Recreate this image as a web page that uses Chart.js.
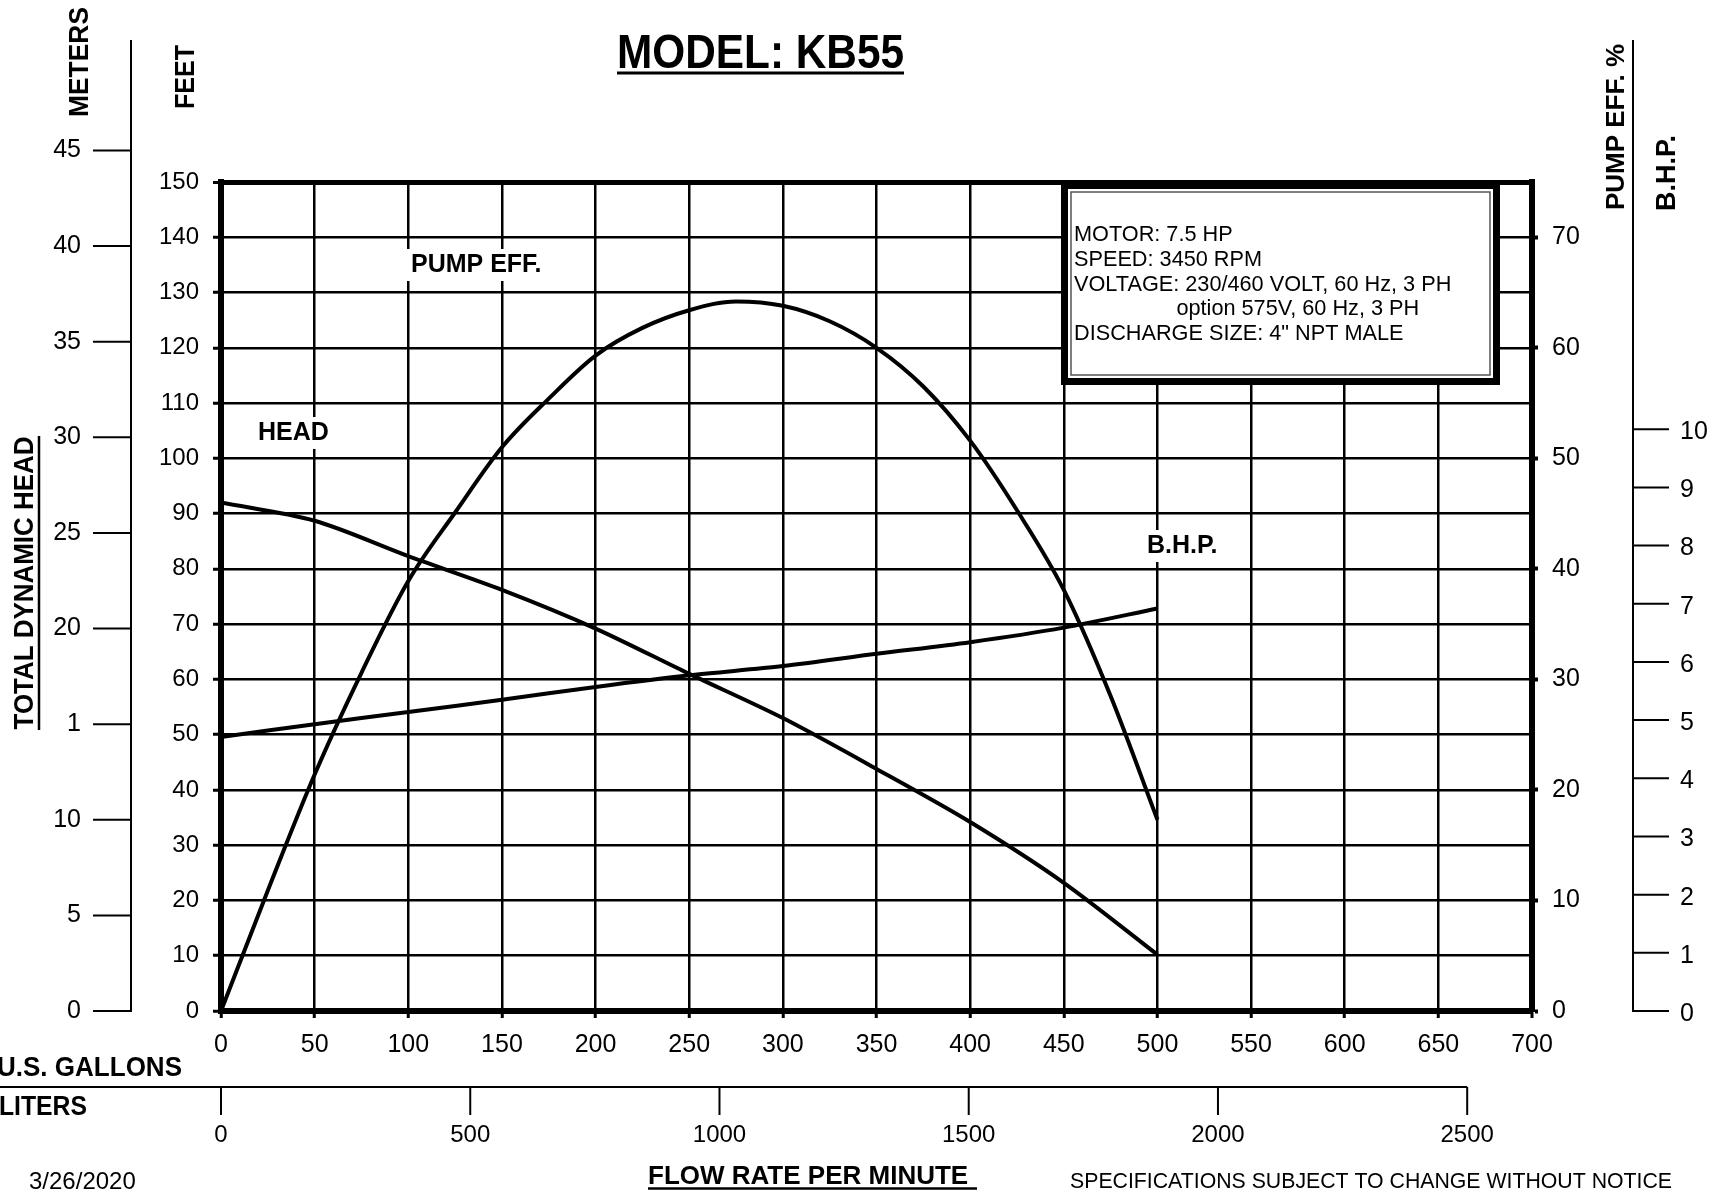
<!DOCTYPE html>
<html>
<head>
<meta charset="utf-8">
<title>MODEL: KB55</title>
<script src="https://cdn.jsdelivr.net/npm/chart.js@4.4.1/dist/chart.umd.min.js"></script>
<style>
  html, body { margin: 0; padding: 0; background: #fff; }
  #wrap { width: 1710px; height: 1191px; }
</style>
</head>
<body>
<div id="wrap"><canvas id="pumpChart" width="1710" height="1191"></canvas></div>
<script>
///////////////////////////// DATA /////////////////////////////

const flowGpm = [0, 50, 100, 150, 200, 250, 300, 350, 400, 450, 500];
const headFt  = [92, 88.7, 82.3, 76.2, 69.2, 61, 53, 43.8, 34.2, 23.2, 10.2];
const bhpHp   = [4.71, 4.93, 5.14, 5.35, 5.57, 5.77, 5.93, 6.14, 6.34, 6.59, 6.92];

const effFlow = [0, 25, 50, 75, 100, 125, 150, 175, 200, 225, 250, 275, 300, 325, 350, 375, 400, 425, 450, 475, 500];
const effPct  = [0, 10.9, 21.4, 30.6, 38.9, 45.1, 51, 55.4, 59.3, 61.8, 63.4, 64.2, 63.8, 62.4, 60, 56.5, 51.6, 45.3, 38.1, 28.5, 17.3];

// tick labels
const flowTicks   = [0, 50, 100, 150, 200, 250, 300, 350, 400, 450, 500, 550, 600, 650, 700];
const feetTicks   = [0, 10, 20, 30, 40, 50, 60, 70, 80, 90, 100, 110, 120, 130, 140, 150];
const effTicks    = [0, 10, 20, 30, 40, 50, 60, 70];
const meterTicks  = [0, 5, 10, 15, 20, 25, 30, 35, 40, 45];
const meterLabels = ['0', '5', '10', '1', '20', '25', '30', '35', '40', '45'];
const bhpTicks    = [0, 1, 2, 3, 4, 5, 6, 7, 8, 9, 10];
const literTicks  = [0, 500, 1000, 1500, 2000, 2500];

const infoLines = [
  'MOTOR: 7.5 HP',
  'SPEED: 3450 RPM',
  'VOLTAGE: 230/460 VOLT, 60 Hz, 3 PH',
  '                 option 575V, 60 Hz, 3 PH',
  'DISCHARGE SIZE: 4" NPT MALE'
];

const FONT = '"Liberation Sans", Arial, sans-serif';

/////////////////////////// helpers ////////////////////////////

function pts(xs, ys) {
  return xs.map((x, i) => ({ x: x, y: ys[i] }));
}

function setTicks(list) {
  return function (scale) {
    scale.ticks = list.map(v => ({ value: v }));
  };
}

function vText(ctx, s, cx, cy, font, maxW) {
  ctx.save();
  ctx.translate(cx, cy);
  ctx.rotate(-Math.PI / 2);
  ctx.font = font;
  ctx.textAlign = 'center';
  ctx.textBaseline = 'middle';
  ctx.fillText(s, 0, 0, maxW);
  ctx.restore();
}

///////////////////////// decorations //////////////////////////

const decor = {
  id: 'decor',
  beforeDatasetsDraw(chart) {
    const ctx = chart.ctx;
    ctx.save();

    // info box
    const bx = 1061, by = 182, bw = 439, bh = 203;
    ctx.fillStyle = '#fff';
    ctx.fillRect(bx, by, bw, bh);
    ctx.strokeStyle = '#000';
    ctx.lineWidth = 7;
    ctx.strokeRect(bx + 3.5, by + 3.5, bw - 7, bh - 7);
    ctx.strokeStyle = '#555';
    ctx.lineWidth = 1.5;
    ctx.strokeRect(bx + 10, by + 10, bw - 20, bh - 20);

    ctx.fillStyle = '#000';
    ctx.font = '21.7px ' + FONT;
    ctx.textAlign = 'left';
    ctx.textBaseline = 'middle';
    infoLines.forEach((s, i) => ctx.fillText(s, 1074, 235 + i * 24.8));

    // curve names, white behind them like the original
    ctx.font = 'bold 25px ' + FONT;
    [['PUMP EFF.', 411, 265], ['HEAD', 258, 433], ['B.H.P.', 1147, 546]].forEach(l => {
      const w = ctx.measureText(l[0]).width;
      ctx.fillStyle = '#fff';
      ctx.fillRect(l[1] - 5, l[2] - 16, w + 10, 32);
      ctx.fillStyle = '#000';
      ctx.fillText(l[0], l[1], l[2]);
    });
    ctx.restore();
  },

  afterDraw(chart) {
    const ctx = chart.ctx;
    const sc = chart.scales;
    ctx.save();
    ctx.fillStyle = '#000';
    ctx.strokeStyle = '#000';
    ctx.lineWidth = 2;

    // meters axis (left)
    const mX = 131;
    ctx.beginPath();
    ctx.moveTo(mX, 40);
    ctx.lineTo(mX, sc.yM.getPixelForValue(0) + 1);
    ctx.stroke();
    ctx.font = '25px ' + FONT;
    ctx.textAlign = 'right';
    ctx.textBaseline = 'middle';
    meterTicks.forEach((v, i) => {
      const py = sc.yM.getPixelForValue(v);
      ctx.beginPath();
      ctx.moveTo(93, py);
      ctx.lineTo(mX, py);
      ctx.stroke();
      ctx.fillText(meterLabels[i], 81, py);
    });

    // B.H.P. axis (right)
    const bX = 1633;
    ctx.beginPath();
    ctx.moveTo(bX, 40);
    ctx.lineTo(bX, sc.yBhp.getPixelForValue(0) + 1);
    ctx.stroke();
    ctx.textAlign = 'left';
    bhpTicks.forEach(v => {
      const py = sc.yBhp.getPixelForValue(v);
      ctx.beginPath();
      ctx.moveTo(bX, py);
      ctx.lineTo(1669, py);
      ctx.stroke();
      ctx.fillText(String(v), 1680, py + 3);
    });

    // liters axis (bottom)
    const lY = 1087;
    ctx.beginPath();
    ctx.moveTo(0, lY);
    ctx.lineTo(sc.xL.getPixelForValue(literTicks[literTicks.length - 1]), lY);
    ctx.stroke();
    ctx.textAlign = 'center';
    ctx.font = '24px ' + FONT;
    literTicks.forEach(v => {
      const px = sc.xL.getPixelForValue(v);
      ctx.beginPath();
      ctx.moveTo(px, lY);
      ctx.lineTo(px, lY + 28);
      ctx.stroke();
      ctx.fillText(String(v), px, 1135);
    });

    // axis names
    vText(ctx, 'METERS', 80, 62, 'bold 28px ' + FONT, 110);
    vText(ctx, 'FEET', 186, 77, 'bold 28px ' + FONT, 64);
    vText(ctx, 'TOTAL DYNAMIC HEAD', 26, 583, 'bold 27px ' + FONT, 293);
    ctx.lineWidth = 2.5;
    ctx.beginPath();
    ctx.moveTo(39, 436);
    ctx.lineTo(39, 730);
    ctx.stroke();
    vText(ctx, 'PUMP EFF. %', 1617, 127, 'bold 26px ' + FONT, 172);
    vText(ctx, 'B.H.P.', 1668, 173, 'bold 27px ' + FONT, 80);

    ctx.textAlign = 'left';
    ctx.textBaseline = 'alphabetic';
    ctx.font = 'bold 27px ' + FONT;
    ctx.fillText('U.S. GALLONS', -3, 1076, 185);
    ctx.fillText('LITERS', -1, 1115, 88);

    // title
    ctx.font = 'bold 49px ' + FONT;
    ctx.fillText('MODEL: KB55', 617, 68, 287);
    ctx.lineWidth = 3;
    ctx.beginPath();
    ctx.moveTo(617, 73);
    ctx.lineTo(904, 73);
    ctx.stroke();

    // footer
    ctx.font = 'bold 26px ' + FONT;
    ctx.fillText('FLOW RATE PER MINUTE', 648, 1184, 329);
    ctx.lineWidth = 2.5;
    ctx.beginPath();
    ctx.moveTo(648, 1188.5);
    ctx.lineTo(977, 1188.5);
    ctx.stroke();
    ctx.font = '24px ' + FONT;
    ctx.fillText('3/26/2020', 29, 1189, 113);
    ctx.font = '22px ' + FONT;
    ctx.fillText('SPECIFICATIONS SUBJECT TO CHANGE WITHOUT NOTICE', 1070, 1188, 602);

    ctx.restore();
  }
};

//////////////////////////// CHART /////////////////////////////

Chart.defaults.font.family = FONT;
Chart.defaults.color = '#000';

const lineStyle = {
  borderColor: '#000',
  borderWidth: 4,
  pointRadius: 0,
  fill: false
};

new Chart(document.getElementById('pumpChart').getContext('2d'), {
  type: 'line',
  data: {
    datasets: [
      { ...lineStyle, label: 'HEAD', data: pts(flowGpm, headFt), yAxisID: 'y', tension: 0.3 },
      { ...lineStyle, label: 'PUMP EFF.', data: pts(effFlow, effPct), yAxisID: 'yEff', cubicInterpolationMode: 'monotone' },
      { ...lineStyle, label: 'B.H.P.', data: pts(flowGpm, bhpHp), yAxisID: 'yBhp', tension: 0.3 }
    ]
  },
  options: {
    responsive: false,
    devicePixelRatio: 1,
    animation: false,
    layout: { padding: { top: 182, left: 0, right: 0, bottom: 0 } },
    plugins: { legend: { display: false }, tooltip: { enabled: false }, title: { display: false } },
    scales: {
      x: {
        type: 'linear', position: 'bottom', min: 0, max: 700,
        afterBuildTicks: setTicks(flowTicks),
        afterFit: s => { s.height = 180; },
        grid: {
          color: '#000',
          lineWidth: c => (c.tick && c.tick.value === 700 ? 6 : 2.5),
          tickLength: 7, tickWidth: 3
        },
        border: { color: '#000', width: 6 },
        ticks: { font: { size: 25 }, padding: 12, maxRotation: 0 }
      },
      y: {
        type: 'linear', position: 'left', min: 0, max: 150,
        afterBuildTicks: setTicks(feetTicks),
        afterFit: s => { s.width = 221; },
        grid: {
          color: '#000',
          lineWidth: c => (c.tick && c.tick.value === 150 ? 5 : 2.5),
          tickLength: 8, tickWidth: 3
        },
        border: { color: '#000', width: 6 },
        ticks: { font: { size: 24 }, padding: 14 }
      },
      yEff: {
        type: 'linear', position: 'right', min: 0, max: 75,
        afterBuildTicks: setTicks(effTicks),
        afterFit: s => { s.width = 178; },
        grid: { display: true, drawOnChartArea: false, color: '#000', tickLength: 6, tickWidth: 4 },
        border: { color: '#000', width: 6 },
        ticks: { font: { size: 25 }, padding: 14 }
      },
      yBhp: { type: 'linear', position: 'right', display: false, min: 0, max: 14.25 },
      yM:   { type: 'linear', position: 'left', display: false, min: 0, max: 43.35 },
      xL:   { type: 'linear', position: 'bottom', display: false, min: 0, max: 2630 }
    }
  },
  plugins: [decor]
});
</script>
</body>
</html>
